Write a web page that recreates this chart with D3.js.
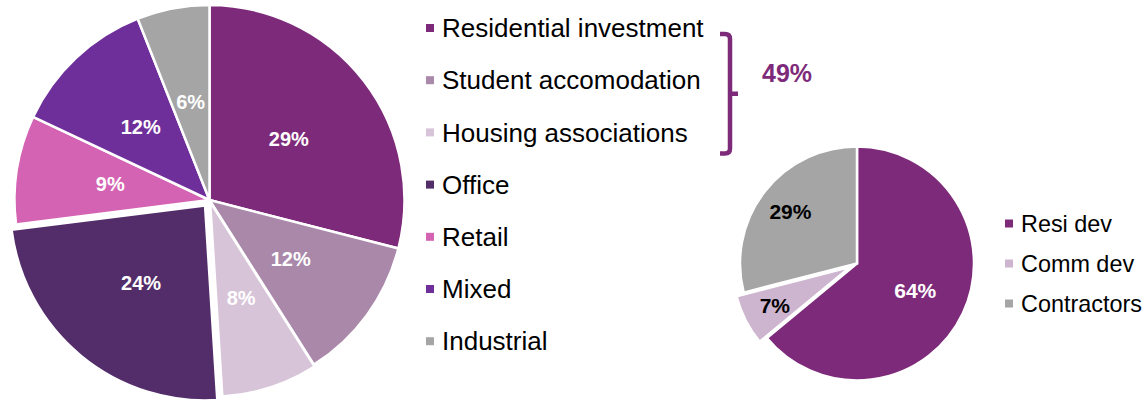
<!DOCTYPE html>
<html>
<head>
<meta charset="utf-8">
<script src="https://cdn.jsdelivr.net/npm/d3@7"></script>
<style>
  html, body { margin: 0; padding: 0; background: #ffffff; }
  svg { display: block; font-family: Arial, "Liberation Sans", Helvetica, sans-serif; }
</style>
</head>
<body>
<svg id="chart" width="1145" height="401"></svg>
<script>
// Lending split by sector (left pie)
const sectors = ["Residential investment", "Student accomodation", "Housing associations", "Office", "Retail", "Mixed", "Industrial"];
const sectorShares = [29, 12, 8, 24, 9, 12, 6];
const sectorColors = ["#7e2a7a", "#a988aa", "#d7c4d8", "#522d6a", "#d463b4", "#6f2f9b", "#a5a5a5"];
const sectorExplode = [0, 0, 2, 7, 0, 0, 0];

// Development lending split (right pie)
const devTypes = ["Resi dev", "Comm dev", "Contractors"];
const devShares = [64, 7, 29];
const devColors = ["#7e2a7a", "#cdb5cf", "#a5a5a5"];
const devLabelColors = ["#ffffff", "#000000", "#000000"];
const devExplode = [0, 8, 0];

// Combined residential share called out with the bracket
const residentialGroup = ["Residential investment", "Student accomodation", "Housing associations"];
const residentialTotalLabel = "49%";

const svg = d3.select("#chart");
const brandPurple = "#7e2a7a";

function drawPie(opts) {
  const pie = d3.pie().sort(null).value(d => d.value);
  const arcs = pie(opts.data);
  const arc = d3.arc().innerRadius(0).outerRadius(opts.r);
  const g = svg.append("g").attr("transform", `translate(${opts.cx},${opts.cy})`);

  const offset = d => {
    const a = (d.startAngle + d.endAngle) / 2;
    const e = d.data.explode || 0;
    return [Math.sin(a) * e, -Math.cos(a) * e];
  };

  g.selectAll("path.slice")
    .data(arcs)
    .join("path")
    .attr("class", "slice")
    .attr("d", arc)
    .attr("transform", d => `translate(${offset(d)})`)
    .attr("fill", d => d.data.color)
    .attr("stroke", "#ffffff")
    .attr("stroke-width", opts.strokeWidth)
    .attr("stroke-linejoin", "miter");

  g.selectAll("text.pct")
    .data(arcs)
    .join("text")
    .attr("class", "pct")
    .attr("transform", d => {
      const a = (d.startAngle + d.endAngle) / 2;
      const rr = opts.r * opts.labelFrac(d);
      const o = offset(d);
      return `translate(${Math.sin(a) * rr + o[0]},${-Math.cos(a) * rr + o[1]})`;
    })
    .attr("text-anchor", "middle")
    .attr("dy", "0.36em")
    .attr("font-weight", "bold")
    .attr("font-size", opts.labelSize)
    .attr("fill", d => d.data.labelColor)
    .text(d => d.data.value + "%");
}

drawPie({
  cx: 209.5, cy: 200, r: 195, strokeWidth: 2.5, labelSize: 20,
  labelFrac: () => 0.515,
  data: sectors.map((name, i) => ({
    name, value: sectorShares[i], color: sectorColors[i],
    explode: sectorExplode[i], labelColor: "#ffffff"
  }))
});

drawPie({
  cx: 857, cy: 263.5, r: 117, strokeWidth: 2.5, labelSize: 21,
  labelFrac: d => d.data.value > 50 ? 0.55 : 0.72,
  data: devTypes.map((name, i) => ({
    name, value: devShares[i], color: devColors[i],
    explode: devExplode[i], labelColor: devLabelColors[i]
  }))
});

// Legends
function drawLegend(names, colors, x, y0, step, fontSize, box) {
  const y = d3.scaleLinear().domain([0, 1]).range([y0, y0 + step]);
  const g = svg.append("g");
  const rows = g.selectAll("g.row")
    .data(names)
    .join("g")
    .attr("class", "row")
    .attr("transform", (d, i) => `translate(${x},${y(i)})`);
  rows.append("rect")
    .attr("x", 0).attr("y", -box / 2)
    .attr("width", box).attr("height", box)
    .attr("fill", (d, i) => colors[i]);
  rows.append("text")
    .attr("x", box + 8)
    .attr("dy", "0.35em")
    .attr("font-size", fontSize)
    .attr("fill", "#000000")
    .text(d => d);
  return y;
}

const legendY = drawLegend(sectors, sectorColors, 426, 28, 52.2, 26, 8);
drawLegend(devTypes, devColors, 1005, 223.5, 40, 23.4, 8);

// Bracket grouping the three residential categories
const firstIdx = sectors.indexOf(residentialGroup[0]);
const lastIdx = sectors.indexOf(residentialGroup[residentialGroup.length - 1]);
const bTop = legendY(firstIdx) + 6;
const bBot = legendY(lastIdx) + 21;
const bMid = (bTop + bBot) / 2;
const bx = 730, hook = 10, tip = 8, rad = 5;
const bracket = d3.path();
bracket.moveTo(bx - hook, bTop);
bracket.lineTo(bx - rad, bTop);
bracket.quadraticCurveTo(bx, bTop, bx, bTop + rad);
bracket.lineTo(bx, bBot - rad);
bracket.quadraticCurveTo(bx, bBot, bx - rad, bBot);
bracket.lineTo(bx - hook, bBot);
bracket.moveTo(bx, bMid);
bracket.lineTo(bx + tip, bMid);
svg.append("path")
  .attr("d", bracket.toString())
  .attr("fill", "none")
  .attr("stroke", brandPurple)
  .attr("stroke-width", 4.5);

svg.append("text")
  .attr("x", 762)
  .attr("y", bMid - 20)
  .attr("dy", "0.35em")
  .attr("font-size", 25)
  .attr("font-weight", "bold")
  .attr("fill", brandPurple)
  .text(residentialTotalLabel);
</script>
</body>
</html>
